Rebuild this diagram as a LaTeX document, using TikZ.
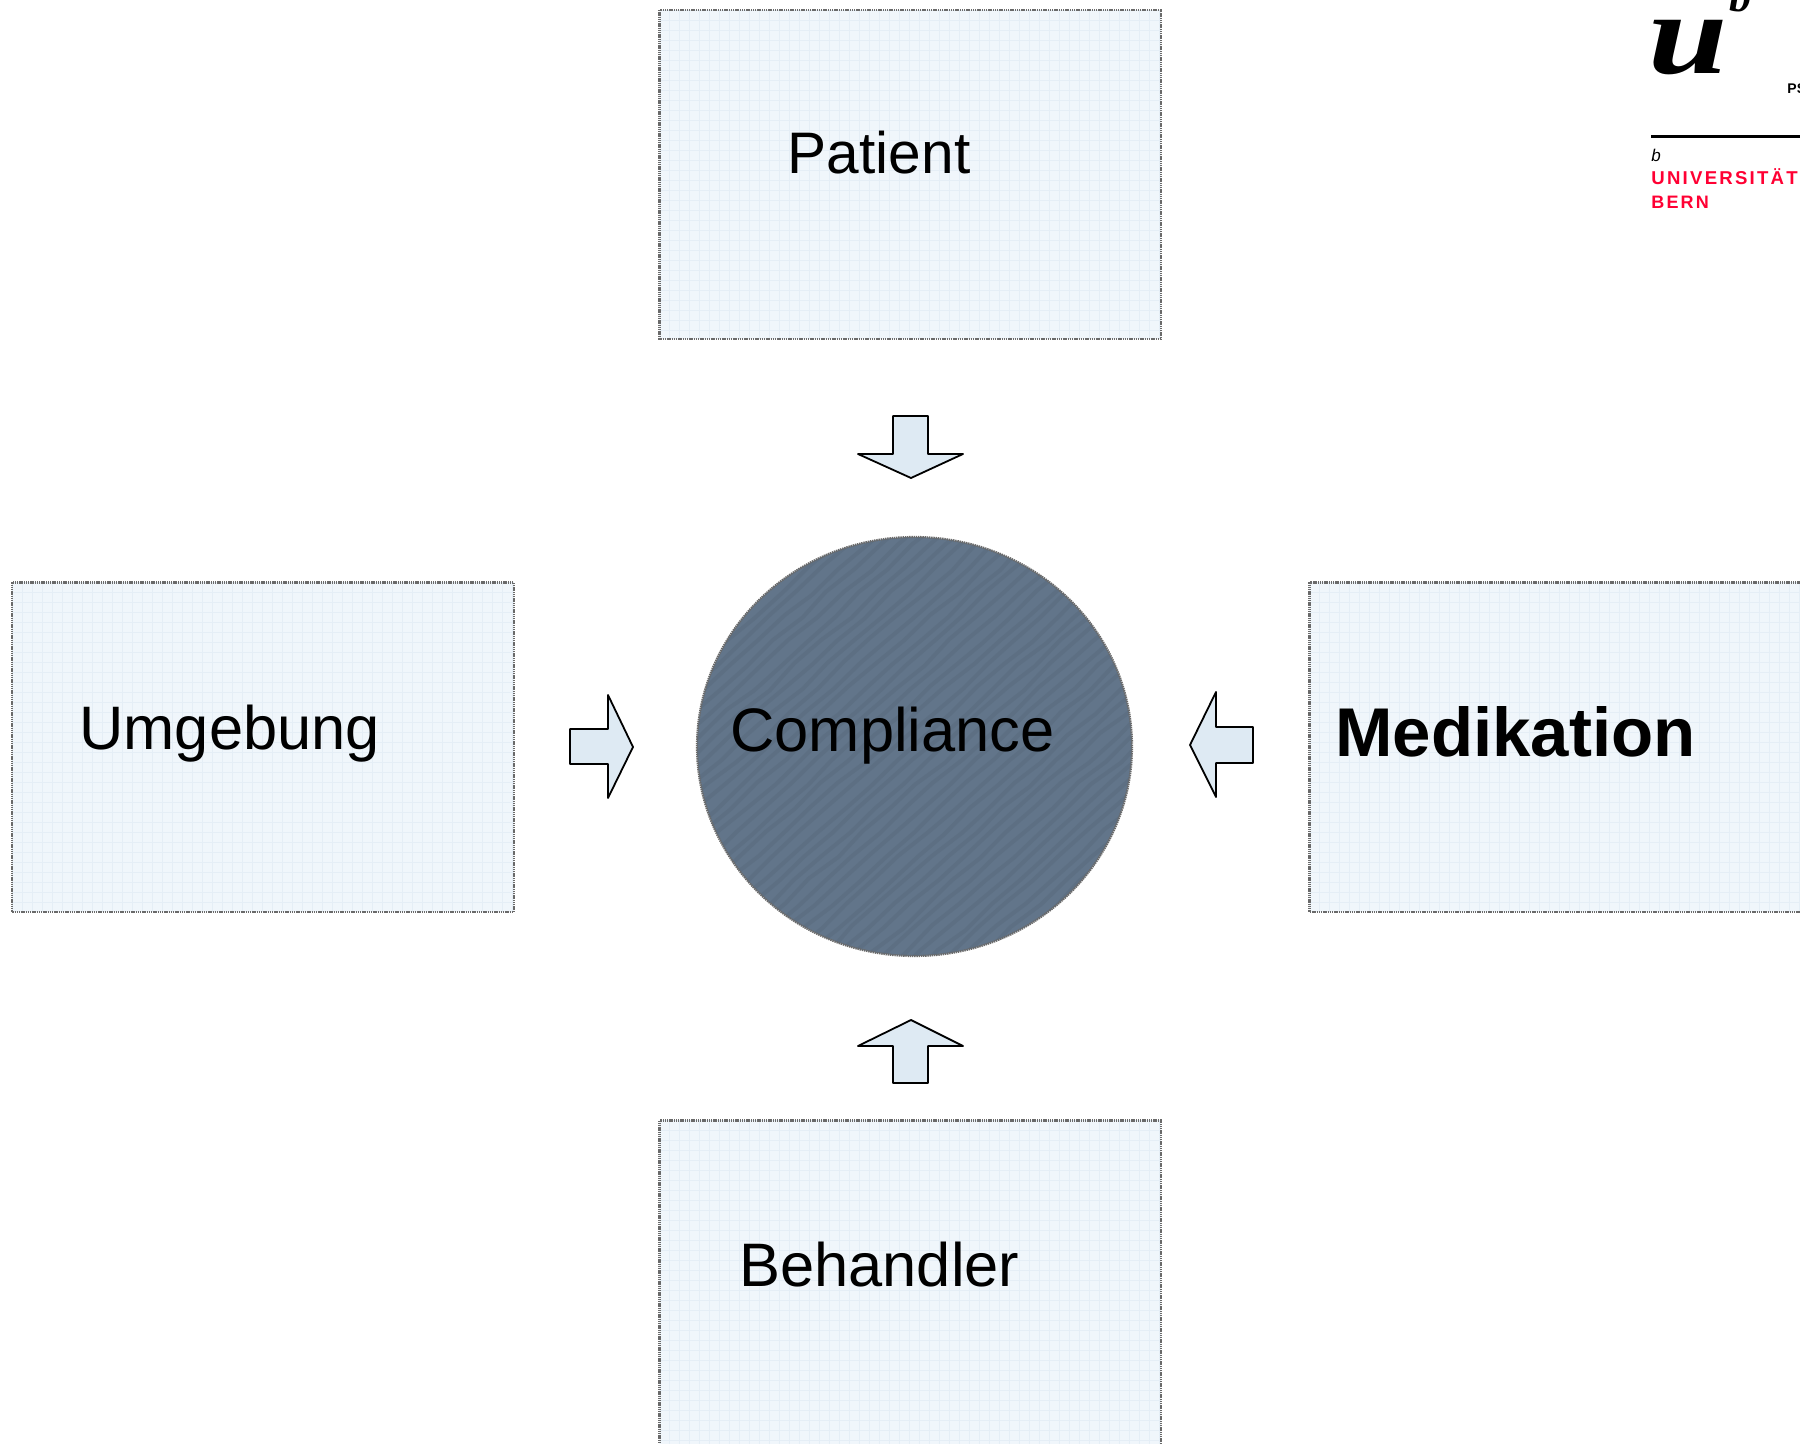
\documentclass[tikz,border=0pt]{standalone}
\usepackage{fontspec}
\usetikzlibrary{decorations.pathmorphing}
\setmainfont{Liberation Sans}
\newfontfamily\logoserif{Liberation Serif}
\newfontfamily\logosans[LetterSpace=12]{Liberation Sans}
\definecolor{boxfill}{HTML}{F0F6FB}
\definecolor{gridline}{HTML}{E5EEF6}
\definecolor{arrowfill}{HTML}{DEEAF3}
\definecolor{discfill}{HTML}{62758A}
\definecolor{discstreak}{HTML}{566879}
\definecolor{boxedge}{HTML}{6A6A6A}
\definecolor{unired}{HTML}{FF0033}
\tikzset{
    fieldbox/.style={draw=boxedge,line width=1.1pt,dash pattern=on .7pt off .4pt},
    gridbox/.style={gridline,line width=.4pt},
    flowarrow/.style={draw=black,line width=.9pt,fill=arrowfill,line join=round},
    fieldlabel/.style={anchor=base west,inner sep=0pt,font=\fontsize{30.7}{30.7}\selectfont},
    logotext/.style={anchor=base west,inner sep=0pt},
    streak/.style={discstreak,line width=2pt,opacity=.4,decorate,decoration={random steps,segment length=18pt,amplitude=1.2pt}},
}
\begin{document}
\begin{tikzpicture}[x=0.5pt,y=-0.5pt]
    \useasboundingbox (0,0) rectangle (1800,1444);
    \clip (0,0) rectangle (1800,1444);
    % boxes
    \foreach \bx/\by/\bw/\bh in {659.5/10/501.5/329, 12/582.5/502/329.5, 1309.5/582.5/520/329.5, 659.5/1120.5/501.5/340}{
        \fill[boxfill] (\bx,\by) rectangle ++(\bw,\bh);
        \begin{scope}
            \clip (\bx,\by) rectangle ++(\bw,\bh);
            \draw[gridbox,step=5pt,shift={(\bx,\by)}] (0,0) grid (\bw,\bh);
        \end{scope}
        \draw[fieldbox] (\bx,\by) rectangle ++(\bw,\bh);
    }
    % disc
    \begin{scope}
        \clip (914.5,746.5) ellipse [x radius=217.5,y radius=209.5];
        \fill[discfill] (697,537) rectangle (1132,956);
        \pgfmathsetseed{7}
        \foreach \s in {0,...,85}
            \draw[streak] (100+\s*16,1000) -- ++(560,-500);
    \end{scope}
    \draw[fieldbox] (914.5,746.5) ellipse [x radius=217.5,y radius=209.5];
    % arrows
    \draw[flowarrow] (893,416) -- (928,416) -- (928,454) -- (963,454) -- (911,478) -- (858,454) -- (893,454) -- cycle;
    \draw[flowarrow] (893,1083) -- (928,1083) -- (928,1046) -- (963,1046) -- (911,1020) -- (858,1046) -- (893,1046) -- cycle;
    \draw[flowarrow] (570,729) -- (608,729) -- (608,695) -- (633,747) -- (608,798) -- (608,764) -- (570,764) -- cycle;
    \draw[flowarrow] (1253,727) -- (1216,727) -- (1216,692) -- (1190,745) -- (1216,797) -- (1216,763) -- (1253,763) -- cycle;
    % labels
    \node[fieldlabel,font=\fontsize{29.3}{29.3}\selectfont] (patient) at (787.5,174) {Patient};
    \node[fieldlabel] (umgebung) at (79,749) {Umgebung};
    \node[fieldlabel] (compliance) at (730,751) {Compliance};
    \node[fieldlabel,font=\bfseries\fontsize{34.5}{34.5}\selectfont] (medikation) at (1335,756) {Medikation};
    \node[fieldlabel] (behandler) at (739,1286) {Behandler};
    % logo
    \node[logotext,font=\logoserif\bfseries\itshape\fontsize{58}{58}\selectfont] (logou) at (1648,74) {\scalebox{1.23}[1]{u}};
    \node[logotext,font=\logoserif\bfseries\itshape\fontsize{22}{22}\selectfont] (logob) at (1729,12) {b};
    \node[logotext,font=\bfseries\fontsize{7}{7}\selectfont] (logops) at (1787,94) {PSYCHOLOGIE};
    \draw[black,line width=1.3pt] (1651,136.5) -- (1800,136.5);
    \node[logotext,font=\itshape\fontsize{8.5}{8.5}\selectfont] (logosmall) at (1651,162) {b};
    \node[logotext,text=unired,font=\logosans\bfseries\fontsize{9.3}{9.3}\selectfont] (logouni) at (1651,185) {UNIVERSITÄT};
    \node[logotext,text=unired,font=\logosans\bfseries\fontsize{9}{9}\selectfont] (logobern) at (1651,209) {BERN};
\end{tikzpicture}
\end{document}
